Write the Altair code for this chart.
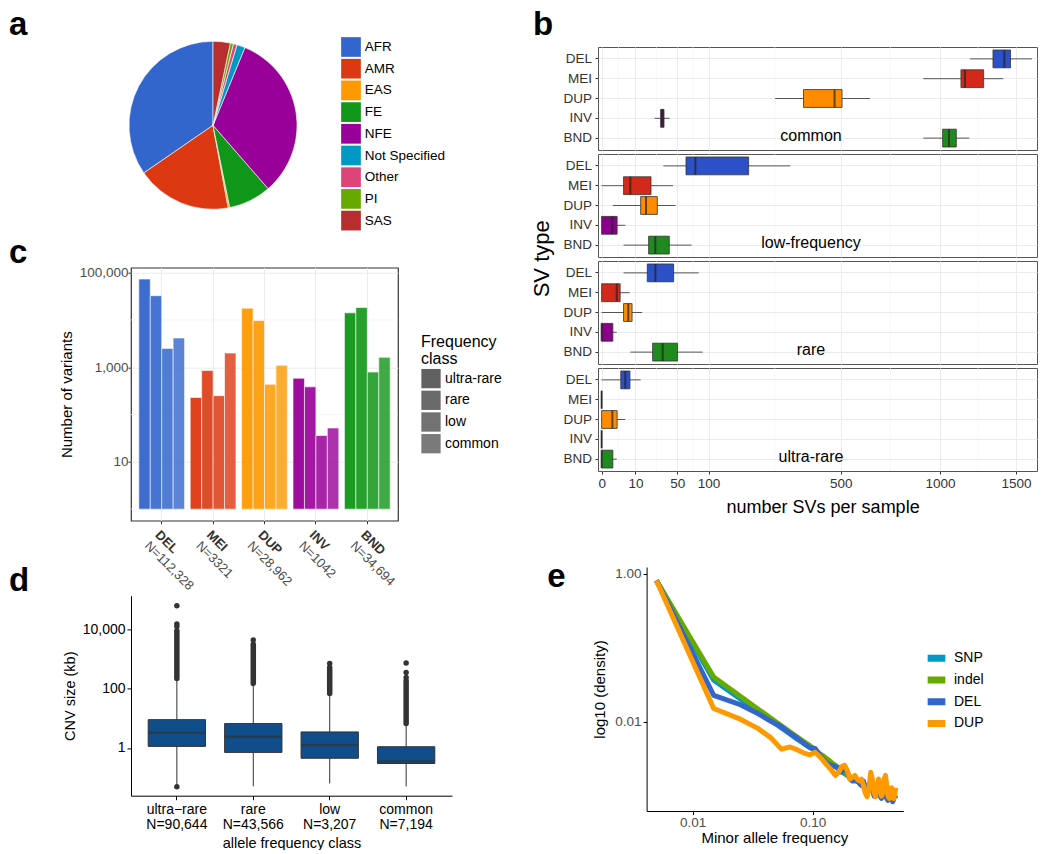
import altair as alt
import pandas as pd

FONT = "Liberation Sans"

# ---------------- panel a : sample ancestry ----------------
pop_labels = ["AFR", "AMR", "EAS", "FE", "NFE", "Not Specified", "Other", "PI", "SAS"]
pop_percent = [34.6, 18.3, 0.3, 8.2, 32.4, 1.6, 0.7, 0.6, 3.3]
pop_colors = ["#3366CC", "#DC3912", "#FF9900", "#109618", "#990099",
              "#0099C6", "#DD4477", "#66AA00", "#B82E2E"]

# ---------------- panel b : SVs per sample ----------------
b_freq = ["common", "low-frequency", "rare", "ultra-rare"]
b_types = ["DEL", "MEI", "DUP", "INV", "BND"]
b_colors = ["#2B50C8", "#D2291B", "#FF8C00", "#8B008B", "#1F8B1F"]
b_lo = [[1185, 904, 263, 24.5, 904], [33.3, 0, 1.1, 0, 4.2], [4.2, 0, 0, 0, 7.2], [0, 0, 0, 0, 0]]
b_q1 = [[1338, 1128, 356, 30.4, 1016], [62.2, 4.2, 13.3, 0, 19.3], [18.2, 0, 4.2, 0, 22.7], [3.2, 0, 0, 0, 0]]
b_med = [[1417, 1153, 474, 32.2, 1054], [76.7, 7.2, 17.2, 1.0, 25.2], [25.2, 2.0, 6.2, 0, 32.5], [4.9, 0, 1.0, 0, 0]]
b_q3 = [[1461, 1275, 505, 34, 1099], [188.8, 21.3, 27.1, 2.1, 40], [45.3, 3.0, 8.1, 1.1, 50.4], [7.0, 0, 2.1, 0, 1.1]]
b_hi = [[1618, 1409, 629, 40.4, 1181], [311, 44.5, 47.8, 4.9, 70.7], [82.2, 6.9, 14.3, 2.0, 89.1], [13.3, 0, 4.9, 0, 2.0]]
b_ticks = [0, 10, 50, 100, 500, 1000, 1500]
b_minor = [2.5, 26.2, 72.9, 261.8, 728.6, 1237.4]

# ---------------- panel c : variants per class ----------------
c_types = ["DEL", "MEI", "DUP", "INV", "BND"]
c_totals = ["N=112,328", "N=3321", "N=28,962", "N=1042", "N=34,694"]
c_classes = ["ultra-rare", "rare", "low", "common"]
c_colors = ["#3366CC", "#DC3912", "#FF9900", "#990099", "#109618"]
c_del = [73000, 32500, 2500, 4150]
c_mei = [229, 850, 251, 1995]
c_dup = [17700, 9700, 437, 1100]
c_inv = [585, 385, 36, 52]
c_bnd = [14100, 18300, 790, 1620]
c_major = [10, 1000, 100000]
c_minor = [1, 100, 10000]

# ---------------- panel d : CNV size ----------------
d_classes = ["ultra\u2212rare", "rare", "low", "common"]
d_totals = ["N=90,644", "N=43,566", "N=3,207", "N=7,194"]
d_lo = [0.055, 0.051, 0.064, 0.051]
d_q1 = [1.13, 0.71, 0.45, 0.30]
d_med = [3.27, 2.4, 1.26, 0.35]
d_q3 = [8.97, 6.6, 3.46, 1.1]
d_hi = [210, 143, 66, 6.4]
d_dense_lo = [215, 147, 68, 6.6]
d_dense_hi = [8800, 3100, 510, 182]
d_out_index = [0, 0, 0, 0, 1, 2, 3, 3, 3]
d_out_value = [61000, 14700, 12200, 0.05, 4300, 690, 720, 346, 235]

# ---------------- panel e : allele frequency spectrum ----------------
e_series = ["SNP", "indel", "DEL", "DUP"]
e_colors = ["#0099C6", "#66AA00", "#3366CC", "#FF9900"]
e_maf = [0.005, 0.015, 0.025, 0.035, 0.045, 0.055, 0.065, 0.075, 0.085, 0.095,
         0.105, 0.115, 0.125, 0.135, 0.145, 0.155, 0.165, 0.175, 0.185, 0.195,
         0.205, 0.215, 0.225, 0.235, 0.245, 0.255, 0.265, 0.275, 0.285, 0.295,
         0.305, 0.315, 0.325, 0.335, 0.345, 0.355, 0.365, 0.375, 0.385, 0.395,
         0.405, 0.415, 0.425, 0.435, 0.445, 0.455, 0.465, 0.475, 0.485, 0.495]
e_snp = [0.81, 0.0365, 0.0205, 0.0140, 0.0105, 0.0083, 0.0069, 0.0058, 0.0051, 0.0046,
         0.0040, 0.0036, 0.0033, 0.0030, 0.0027, 0.0025, 0.0023, 0.0022, 0.0020, 0.0019,
         0.0018, 0.0017, 0.0016, 0.0016, 0.0015, 0.0014, 0.0014, 0.0013, 0.0013, 0.0013,
         0.0012, 0.0012, 0.0012, 0.0011, 0.0011, 0.0011, 0.0011, 0.0010, 0.0010, 0.0010,
         0.0010, 0.00098, 0.00097, 0.00096, 0.00095, 0.00094, 0.00093, 0.00092, 0.00091, 0.00090]
e_indel = [0.81, 0.0404, 0.0222, 0.0150, 0.0112, 0.0089, 0.0073, 0.0062, 0.0054, 0.0048,
           0.0042, 0.0037, 0.0034, 0.0031, 0.0028, 0.0026, 0.0024, 0.0022, 0.0021, 0.0019,
           0.0018, 0.0017, 0.0017, 0.0016, 0.0015, 0.0015, 0.0014, 0.0014, 0.0013, 0.0013,
           0.0012, 0.0012, 0.0012, 0.0011, 0.0011, 0.0011, 0.0011, 0.0010, 0.0010, 0.0010,
           0.0010, 0.00099, 0.00098, 0.00097, 0.00096, 0.00095, 0.00094, 0.00093, 0.00092, 0.00091]
e_del = [0.81, 0.0229, 0.0171, 0.0130, 0.0102, 0.0086, 0.0070, 0.0060, 0.0051, 0.0045,
         0.0044, 0.0036, 0.0030, 0.0027, 0.0026, 0.0025, 0.0024, 0.0021, 0.0025, 0.0021,
         0.0017, 0.0016, 0.0017, 0.0016, 0.0015, 0.0014, 0.0016, 0.0013, 0.0011, 0.0013,
         0.0016, 0.0013, 0.0010, 0.0011, 0.0014, 0.0012, 0.0010, 0.00093, 0.0011, 0.0013,
         0.0011, 0.00093, 0.00088, 0.0010, 0.0011, 0.00093, 0.00084, 0.00098, 0.0010, 0.00093]
e_dup = [0.81, 0.0152, 0.0109, 0.0082, 0.0061, 0.0043, 0.0046, 0.0042, 0.0038, 0.0036,
         0.0039, 0.0034, 0.0029, 0.0025, 0.0022, 0.0019, 0.0021, 0.0025, 0.0026, 0.0022,
         0.0017, 0.0018, 0.0019, 0.0017, 0.0016, 0.0017, 0.0014, 0.0011, 0.00098, 0.0013,
         0.0021, 0.0017, 0.0011, 0.00098, 0.0014, 0.0017, 0.0014, 0.0010, 0.0011, 0.0017,
         0.0019, 0.0014, 0.0010, 0.00093, 0.0011, 0.0013, 0.0010, 0.00093, 0.0011, 0.0013]

panel_letters = ["a", "b", "c", "d", "e"]


def letter(t, px, py):
    """Panel letter drawn as a text mark, placed relative to the panel's plot origin."""
    return alt.Chart(pd.DataFrame({"t": [t]})).mark_text(
        fontSize=33, fontWeight="bold", font=FONT, color="black",
        align="left", baseline="alphabetic").encode(
        text="t:N", x=alt.value(px), y=alt.value(py))


# ======================= panel a =======================
df_a = pd.DataFrame({"pop": pop_labels, "pct": pop_percent,
                     "ord": list(range(len(pop_labels)))[::-1]})
pie = alt.Chart(df_a).mark_arc(radius=84, stroke="white", strokeWidth=0.6).encode(
    theta=alt.Theta("pct:Q", stack=True),
    order=alt.Order("ord:Q", sort="ascending"),
    color=alt.Color("pop:N", scale=alt.Scale(domain=pop_labels, range=pop_colors),
                    legend=alt.Legend(title=None, orient="none", legendX=210, legendY=-10,
                                      symbolType="square", symbolSize=388, symbolStrokeWidth=0,
                                      labelFontSize=13.5, labelColor="black", labelOffset=3.7,
                                      rowPadding=1.7, padding=0)),
)
chart_a = alt.layer(pie, letter(panel_letters[0], -122, -12.3)).properties(width=164, height=156.6)

# ======================= panel c =======================
c_rows = []
for t, vals in zip(c_types, [c_del, c_mei, c_dup, c_inv, c_bnd]):
    for cls, v in zip(c_classes, vals):
        c_rows.append({"type": t, "cls": cls, "n": v})
df_c = pd.DataFrame(c_rows)
c_xscale = alt.Scale(domain=c_types, paddingInner=0.11, paddingOuter=0.152)
c_yscale = alt.Scale(type="log", domain=[0.57, 127000], nice=False)
c_xaxis = alt.Axis(labels=False, title=None, ticks=True, tickSize=3, tickColor="#333",
                   domain=False, grid=True, gridColor="#EBEBEB")
c_yaxis = alt.Axis(values=c_major, format=",", title="Number of variants", titleFontSize=15,
                   titleX=-59.3, titleBaseline="alphabetic", titleColor="black",
                   labelFontSize=13.5, labelColor="#4D4D4D", tickSize=3, tickColor="#333",
                   labelPadding=0, domain=False, grid=True, gridColor="#EBEBEB")
c_x = alt.X("type:N", scale=c_xscale, axis=c_xaxis)
c_minor_layer = alt.Chart(pd.DataFrame({"g": c_minor})).mark_rule(
    color="#F3F3F3", strokeWidth=0.7).encode(y=alt.Y("g:Q", scale=c_yscale, axis=c_yaxis))
c_bars = alt.Chart(df_c).mark_bar(stroke="white", strokeWidth=0.6).encode(
    x=c_x,
    xOffset=alt.XOffset("cls:N", scale=alt.Scale(domain=c_classes, paddingInner=0, paddingOuter=0)),
    y=alt.Y("n:Q", scale=c_yscale, axis=c_yaxis),
    y2=alt.datum(1),
    color=alt.Color("type:N", scale=alt.Scale(domain=c_types, range=c_colors), legend=None),
    opacity=alt.Opacity("cls:N", scale=alt.Scale(domain=c_classes, range=[0.95, 0.8, 0.65, 0.5]),
                        legend=alt.Legend(title=["Frequency", "class"], titleFontSize=16,
                                          titleFontWeight="normal", titleColor="black",
                                          titleLineHeight=17, titlePadding=2,
                                          orient="none", legendX=290, legendY=65.9,
                                          symbolType="square", symbolSize=372,
                                          symbolFillColor="#595959", symbolStrokeWidth=0,
                                          labelFontSize=14, labelColor="black", labelOffset=4,
                                          rowPadding=1.7, padding=0)),
)
df_cl = pd.DataFrame({"type": c_types, "N": c_totals})
c_lab1 = alt.Chart(df_cl).mark_text(angle=45, align="left", baseline="top", fontWeight="bold",
                                    fontSize=13, color="#333").encode(
    x=c_x, y=alt.value(261), text="type:N")
c_lab2 = alt.Chart(df_cl).mark_text(angle=45, align="left", baseline="top", fontSize=13,
                                    color="#4D4D4D", dy=15).encode(
    x=c_x, y=alt.value(261), text="N:N")
chart_c = alt.layer(c_minor_layer, c_bars, c_lab1, c_lab2,
                    letter(panel_letters[2], -122, -4.3)).properties(
    width=267, height=253, view=alt.ViewBackground(stroke="#333", strokeWidth=1.2))

# ======================= panel d =======================
d_labels = [c + "\n" + n for c, n in zip(d_classes, d_totals)]
df_d = pd.DataFrame({"cls": d_labels, "lo": d_lo, "q1": d_q1, "med": d_med, "q3": d_q3,
                     "hi": d_hi, "dlo": d_dense_lo, "dhi": d_dense_hi})
df_do = pd.DataFrame({"cls": [d_labels[i] for i in d_out_index], "v": d_out_value})
D_H = 211.3
d_xscale = alt.Scale(domain=d_labels, paddingInner=0.25, paddingOuter=0.225)
d_yscale = alt.Scale(type="log", domain=[0.0248, 132000], nice=False, range=[D_H, 11.3])
d_x = alt.X("cls:N", scale=d_xscale,
            axis=alt.Axis(labelExpr="split(datum.label, '\\n')", labelAngle=0,
                          title="allele frequency class", titleFontSize=14.5,
                          titleBaseline="alphabetic", titleY=51.3, titleColor="black",
                          labelFontSize=14, labelColor="black", labelLineHeight=15,
                          tickSize=4, labelPadding=3, domainColor="black", tickColor="black",
                          grid=False))
d_yaxis = alt.Axis(values=[1, 100, 10000], format=",", title="CNV size (kb)", titleFontSize=14.5,
                   titleX=-57, titleY=111.3, titleBaseline="alphabetic", titleColor="black",
                   labelFontSize=14, labelColor="black", tickSize=4, labelPadding=2,
                   domainColor="black", tickColor="black", grid=False)
d_whisk = alt.Chart(df_d).mark_rule(color="#333", strokeWidth=1).encode(
    x=d_x, y=alt.Y("lo:Q", scale=d_yscale, axis=d_yaxis), y2="hi:Q")
d_dense = alt.Chart(df_d).mark_rule(color="#333", strokeWidth=5.5, strokeCap="round").encode(
    x=d_x, y=alt.Y("dlo:Q", scale=d_yscale, axis=d_yaxis), y2="dhi:Q")
d_box = alt.Chart(df_d).mark_bar(color="#104E8B", stroke="#333", strokeWidth=1).encode(
    x=d_x, y=alt.Y("q1:Q", scale=d_yscale, axis=d_yaxis), y2="q3:Q")
d_medl = alt.Chart(df_d).mark_tick(color="#333", thickness=2.5, size=57.3, orient="horizontal").encode(
    x=d_x, y=alt.Y("med:Q", scale=d_yscale, axis=d_yaxis))
d_pts = alt.Chart(df_do).mark_circle(size=30, color="#333", opacity=1).encode(
    x=d_x, y=alt.Y("v:Q", scale=d_yscale, axis=d_yaxis))
chart_d = alt.layer(d_whisk, d_dense, d_box, d_medl, d_pts,
                    letter(panel_letters[3], -122, 6.3)).properties(width=321, height=D_H)

# ======================= panel b =======================
b_rows = []
for i, f in enumerate(b_freq):
    for j, t in enumerate(b_types):
        b_rows.append({"freq": f, "type": t, "lo": b_lo[i][j], "q1": b_q1[i][j],
                       "med": b_med[i][j], "q3": b_q3[i][j], "hi": b_hi[i][j]})
df_b = pd.DataFrame(b_rows)
b_xscale = alt.Scale(type="sqrt", domain=[-0.115, 1656], nice=False, zero=False)
b_yscale = alt.Scale(domain=b_types, paddingInner=0.1, paddingOuter=0.15)
b_color = alt.Color("type:N", scale=alt.Scale(domain=b_types, range=b_colors), legend=None)


def b_panel(i):
    freq = b_freq[i]
    last = i == 3
    xkw = dict(values=b_ticks, format="d", grid=True, gridColor="#EBEBEB", domain=False,
               labels=last, ticks=last, tickColor="#333", tickSize=3, labelPadding=2,
               labelFontSize=13.5, labelColor="#333", labelFlush=False, labelOverlap=False)
    if last:
        xkw.update(title="number SVs per sample", titleFontSize=18, titleColor="black",
                   titleX=224.6, titleY=41.5, titleBaseline="alphabetic")
    else:
        xkw.update(title=None)
    xaxis = alt.Axis(**xkw)
    ykw = dict(grid=True, gridColor="#EBEBEB", domain=False, tickColor="#333", tickSize=3,
               labelPadding=3.5, labelFontSize=13.5, labelColor="#333")
    if i == 1:
        ykw.update(title="SV type", titleFontSize=22, titleColor="black", titleX=-49.9,
                   titleY=104.3, titleBaseline="alphabetic")
    else:
        ykw.update(title=None)
    y = alt.Y("type:N", scale=b_yscale, axis=alt.Axis(**ykw))
    base = alt.Chart(df_b).transform_filter(alt.datum.freq == freq)
    minor = alt.Chart(pd.DataFrame({"m": b_minor})).mark_rule(
        color="#F4F4F4", strokeWidth=0.6).encode(x=alt.X("m:Q", scale=b_xscale, axis=xaxis))
    whisk = base.mark_rule(color="#555", strokeWidth=1).encode(
        x=alt.X("lo:Q", scale=b_xscale, axis=xaxis), x2="hi:Q", y=y)
    box = base.mark_bar(stroke="#333", strokeWidth=0.8).encode(
        x=alt.X("q1:Q", scale=b_xscale, axis=xaxis), x2="q3:Q", y=y, color=b_color)
    med = base.mark_tick(color="#222", thickness=2, size=17.8, orient="vertical").encode(
        x=alt.X("med:Q", scale=b_xscale, axis=xaxis), y=y)
    lab = base.transform_filter(alt.datum.type == "BND").mark_text(
        fontSize=16, color="black", baseline="middle", dy=-2).encode(
        x=alt.datum(383), y=y, text="freq:N")
    layers = [minor, whisk, box, med, lab]
    if i == 0:
        layers.append(letter(panel_letters[1], -65, -12.3))
    return alt.layer(*layers).properties(
        width=439, height=103, view=alt.ViewBackground(stroke="#555", strokeWidth=1))


spacer = alt.Chart(pd.DataFrame({"s": [0]})).mark_point(opacity=0).encode(
    x=alt.X("s:Q", axis=None), y=alt.Y("s:Q", axis=None)).properties(width=10, height=88)

# ======================= panel e =======================
e_rows = []
for s, vals in zip(e_series, [e_snp, e_indel, e_del, e_dup]):
    for x, v in zip(e_maf, vals):
        e_rows.append({"series": s, "maf": x, "dens": v})
df_e = pd.DataFrame(e_rows)
e_x = alt.X("maf:Q", scale=alt.Scale(type="log", domain=[0.00414, 0.57], range=[48.6, 305.3], nice=False),
            axis=alt.Axis(values=[0.01, 0.1], format=".2f", title="Minor allele frequency",
                          titleX=176.3, titleY=31.9, titleBaseline="alphabetic", titleFontSize=15,
                          titleColor="black", labelFontSize=13.5, labelColor="#4D4D4D",
                          domainColor="black", tickColor="black", tickSize=3.5, labelPadding=1,
                          grid=False))
e_y = alt.Y("dens:Q", scale=alt.Scale(type="log", domain=[0.00063, 1.23], nice=False),
            axis=alt.Axis(values=[0.01, 1], format=".2f", offset=-48.6, title="log10 (density)",
                          titleX=-42.5, titleBaseline="alphabetic", titleFontSize=15,
                          titleColor="black", labelFontSize=13.5, labelColor="#4D4D4D",
                          domainColor="black", tickColor="black", tickSize=3.5, labelPadding=2,
                          grid=False))
e_color = alt.Color("series:N", scale=alt.Scale(domain=e_series, range=e_colors),
                    legend=alt.Legend(title=None, orient="none", legendX=326, legendY=81.3,
                                      symbolType="stroke", symbolStrokeWidth=7, symbolSize=313,
                                      clipHeight=20, labelFontSize=14, labelColor="black",
                                      rowPadding=1.7, labelOffset=5, padding=0))
e_layers = [alt.Chart(df_e).transform_filter(alt.datum.series == s).mark_line(
    strokeWidth=5, strokeJoin="round").encode(x=e_x, y=e_y, color=e_color) for s in e_series]
chart_e = alt.layer(*e_layers, letter(panel_letters[4], -50.7, 20)).properties(width=305.3, height=244)

# ======================= layout =======================
left = alt.vconcat(chart_a, chart_c, chart_d, spacing=63.7, bounds="flush").resolve_scale(
    color="independent", opacity="independent")
right = alt.vconcat(b_panel(0), b_panel(1), b_panel(2), b_panel(3), spacer, chart_e,
                    spacing=4, bounds="flush").resolve_scale(color="independent")
chart = alt.hconcat(left, right, spacing=26).resolve_scale(
    color="independent", opacity="independent").properties(padding=0).configure(
    font=FONT).configure_view(strokeWidth=0).configure_axis(
    labelFont=FONT, titleFont=FONT, titleFontWeight="normal").configure_legend(
    labelFont=FONT, titleFont=FONT).configure_title(font=FONT)

chart.save("out.html", embed_options={"renderer": "svg", "actions": False})
